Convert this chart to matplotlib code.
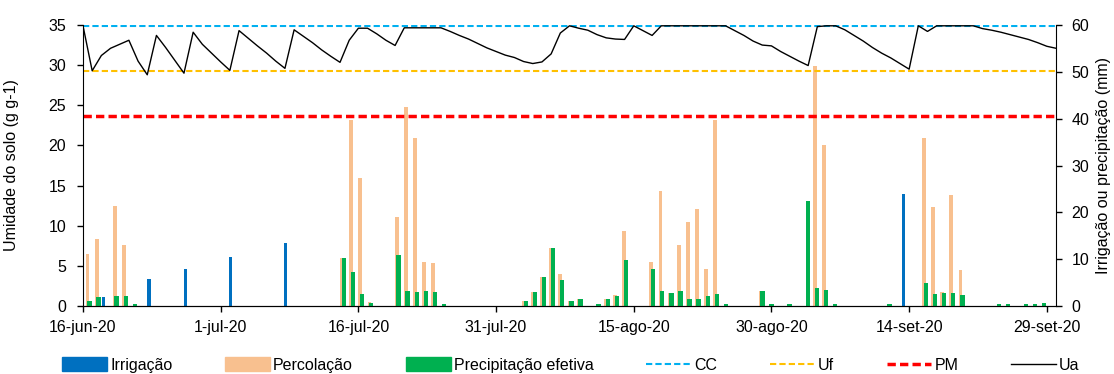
import numpy as np
import matplotlib
matplotlib.use('Agg')
import matplotlib.pyplot as plt
from matplotlib.patches import Patch
from matplotlib.lines import Line2D

plt.rcParams['font.family'] = ['Liberation Sans', 'DejaVu Sans']
plt.rcParams['font.size'] = 11.5

# dias desde 16-jun-20
tick_days = [0, 15, 30, 45, 60, 75, 90, 105]
tick_labels = ['16-jun-20', '1-jul-20', '16-jul-20', '31-jul-20',
               '15-ago-20', '30-ago-20', '14-set-20', '29-set-20']

# umidade do solo (g g-1), um valor por dia (16-jun a 30-set)
ua = [34.9, 29.3, 31.2, 32.1, 32.6, 33.1, 30.5, 28.8, 33.7, 32.2,
      30.6, 29.0, 34.1, 32.6, 31.5, 30.4, 29.35, 34.3, 33.35, 32.4,
      31.5, 30.5, 29.6, 34.4, 33.6, 32.8, 31.9, 31.1, 30.35, 33.1,
      34.6, 34.6, 33.9, 33.1, 32.45, 34.65, 34.65, 34.65, 34.65, 34.65,
      34.2, 33.7, 33.25, 32.7, 32.15, 31.7, 31.25, 30.95, 30.45, 30.2,
      30.4, 31.4, 34.0, 34.9, 34.6, 34.35, 33.8, 33.4, 33.25, 33.2,
      34.9, 34.3, 33.7, 34.9, 34.9, 34.9, 34.9, 34.9, 34.9, 34.9,
      34.9, 34.3, 33.7, 33.0, 32.5, 32.4, 31.7, 31.1, 30.5, 29.95,
      34.8, 34.9, 34.9, 34.4, 33.7, 33.0, 32.2, 31.5, 30.9, 30.2,
      29.5, 34.9, 34.2, 34.9, 34.9, 34.9, 34.9, 34.9, 34.55, 34.35,
      34.1, 33.8, 33.5, 33.2, 32.8, 32.35, 32.1]

cc = 34.9
uf = 29.3
pm = 23.7

# barras (mm), indice do dia
irrig_days = [2, 7, 11, 16, 22, 90]
irrig_mm = [1.9, 5.7, 8.0, 10.5, 13.5, 24.0]

perc_days = [0, 1, 3, 4, 28, 29, 30, 31, 34, 35, 36, 37, 38,
             48, 49, 50, 51, 52, 53, 54, 57, 58, 59,
             62, 63, 64, 65, 66, 67, 68, 69, 74, 80, 81,
             92, 93, 94, 95, 96]
perc_mm = [11.1, 14.2, 21.4, 13.1, 10.3, 39.7, 27.4, 0.8, 18.9, 42.5, 35.8, 9.4, 9.1,
           1.1, 3.0, 6.1, 12.4, 6.9, 1.1, 1.4, 1.6, 2.3, 16.0,
           9.3, 24.5, 2.8, 13.0, 18.0, 20.7, 7.8, 39.7, 3.2, 51.3, 34.4,
           35.8, 21.1, 2.9, 23.6, 7.6]

prec_days = [0, 1, 3, 4, 5, 28, 29, 30, 31, 34, 35, 36, 37, 38, 39,
             48, 49, 50, 51, 52, 53, 54, 56, 57, 58, 59,
             62, 63, 64, 65, 66, 67, 68, 69, 70, 74, 75, 77,
             79, 80, 81, 82, 88, 92, 93, 94, 95, 96,
             100, 101, 103, 104, 105]
prec_mm = [1.1, 1.9, 2.1, 2.2, 0.4, 10.2, 7.2, 2.65, 0.7, 10.8, 3.3, 2.9, 3.3, 2.9, 0.5,
           1.1, 2.9, 6.1, 12.3, 5.65, 1.1, 1.4, 0.4, 1.6, 2.2, 9.8,
           8.0, 3.15, 2.8, 3.15, 1.4, 1.4, 2.1, 2.6, 0.4, 3.3, 0.4, 0.4,
           22.4, 3.8, 3.5, 0.4, 0.4, 5.0, 2.6, 2.8, 2.8, 2.3,
           0.4, 0.5, 0.4, 0.4, 0.6]

n_days = len(ua)
days = np.arange(n_days)
span = n_days - 1


def cat_pos(idx):
    # colunas em eixo de categorias (centro de cada faixa)
    return (np.array(idx) + 0.5) * span / n_days


c_irr = '#0070C0'
c_perc = '#F8C08F'
c_prec = '#00B050'

fig = plt.figure(figsize=(11.14, 3.74), dpi=100)
ax = fig.add_axes([83 / 1114, 1 - 306 / 374, (1056 - 83) / 1114, (306 - 25) / 374])
ax2 = ax.twinx()

ax2.bar(cat_pos(irrig_days) - 0.25, irrig_mm, width=0.38, color=c_irr, zorder=2)
ax2.bar(cat_pos(perc_days), perc_mm, width=0.42, color=c_perc, zorder=2)
ax2.bar(cat_pos(prec_days) + 0.2, prec_mm, width=0.48, color=c_prec, zorder=3)

ax.axhline(cc, color='#00B0F0', lw=1.5, dashes=(3, 1.5))
ax.axhline(uf, color='#FFC000', lw=1.5, dashes=(3, 1.5))
ax.axhline(pm, color='#FF0000', lw=2.5, dashes=(2.4, 1.2))
ax.plot(days, ua, color='black', lw=1.0)

ax.set_zorder(ax2.get_zorder() + 1)
ax.patch.set_visible(False)

ax.set_xlim(0, span)
ax.set_ylim(0, 35)
ax2.set_ylim(0, 60)
ax.set_yticks(np.arange(0, 36, 5))
ax2.set_yticks(np.arange(0, 61, 10))
ax.set_xticks(tick_days)
ax.set_xticklabels(tick_labels)

for a in (ax, ax2):
    a.spines['top'].set_visible(False)
    a.tick_params(direction='out', length=4, width=1, colors='black')
ax2.spines['left'].set_visible(False)
ax.spines['right'].set_visible(False)
ax.tick_params(axis='y', pad=8)
ax.tick_params(axis='x', pad=6)
ax2.tick_params(axis='y', pad=7)

ax.set_ylabel('Umidade do solo (g g-1)')
ax.yaxis.set_label_coords(-0.066, 0.5)
ax2.set_ylabel('Irrigação ou precipitação (mm)')
ax2.yaxis.set_label_coords(1.041, 0.5)

handles = [
    Patch(color=c_irr, label='Irrigação'),
    Patch(color=c_perc, label='Percolação'),
    Patch(color=c_prec, label='Precipitação efetiva'),
    Line2D([], [], color='#00B0F0', lw=1.5, dashes=(3, 1.5), label='CC'),
    Line2D([], [], color='#FFC000', lw=1.5, dashes=(3, 1.5), label='Uf'),
    Line2D([], [], color='#FF0000', lw=2.5, dashes=(2.4, 1.2), label='PM'),
    Line2D([], [], color='black', lw=1.0, label='Ua'),
]
fig.legend(handles=handles, loc='center', bbox_to_anchor=(571 / 1114, 1 - 365 / 374),
           ncol=7, frameon=False, handlelength=2.8, handleheight=0.9,
           handletextpad=0.2, columnspacing=3.3)

fig.savefig('out.png', dpi=100)
